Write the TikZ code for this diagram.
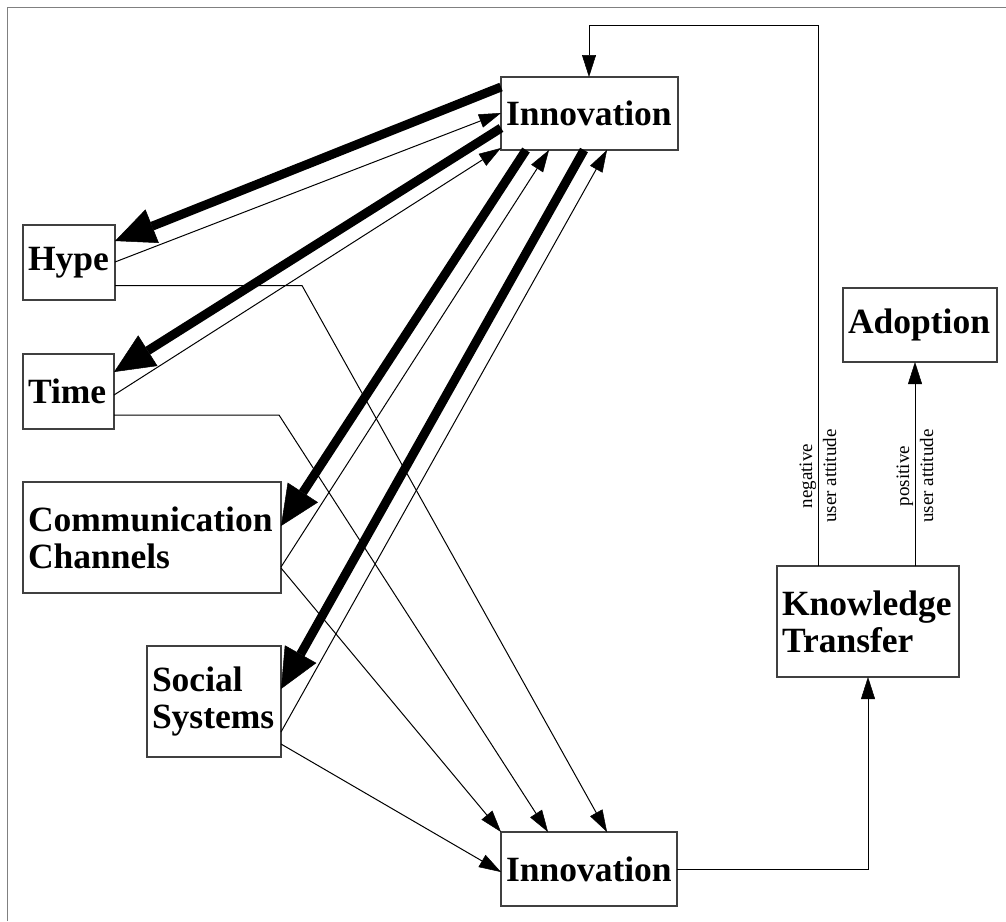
\documentclass[tikz,border=0pt]{standalone}
\usepackage{fontspec}
\setmainfont{Liberation Serif}
\usetikzlibrary{arrows.meta,calc}
\begin{document}
\begin{tikzpicture}[x=1pt,y=-1pt,
  box/.style={draw=black!75, line width=1.3pt, fill=white, rectangle,
    anchor=north west, outer sep=0pt, inner xsep=5pt, inner ysep=0pt,
    font=\fontsize{35.5}{37}\selectfont\bfseries, align=left},
  heavy/.style={line width=9pt, -{Triangle[length=40pt,width=36pt,line width=0.5pt]}},
  light/.style={line width=1pt, -{Triangle[length=22pt,width=14pt,line width=0.5pt]}},
  note/.style={font=\fontsize{19}{24}\selectfont, rotate=90, align=center, inner sep=0pt},
  frame/.style={draw=black!50, line width=1.6pt},
]
\useasboundingbox (0,0) rectangle (1006,921);

% outer frame (top and left edges only)
\draw[frame] (7.5,921) -- (7.5,7.5) -- (1006,7.5);

% boxes
\node[box, minimum width=177pt, minimum height=73pt, text width=167pt] (inn1) at (501,77) {Innovation};
\node[box, minimum width=92pt, minimum height=75pt, text width=82pt] (hype) at (23,225) {Hype};
\node[box, minimum width=91pt, minimum height=75pt, text width=81pt] (time) at (23,354) {Time};
\node[box, minimum width=258pt, minimum height=111pt, text width=248pt] (cc) at (23,482) {Communication\\Channels};
\node[box, minimum width=134pt, minimum height=111pt, text width=124pt] (ss) at (147,646) {Social\\Systems};
\node[box, minimum width=176pt, minimum height=74pt, text width=166pt] (inn2) at (501,832) {Innovation};
\node[box, minimum width=182pt, minimum height=111pt, text width=172pt] (kt) at (777,566) {Knowledge\\Transfer};
\node[box, minimum width=154pt, minimum height=74pt, text width=144pt] (adopt) at (843,288) {Adoption};

% heavy arrows from the upper Innovation box
\draw[heavy] ($(inn1.north west)+(0,10)$) -- ($(hype.north east)+(0,16)$);
\draw[heavy] ($(inn1.north west)+(0,51)$) -- ($(time.north east)+(0,18)$);
\draw[heavy] ($(inn1.south west)+(25,0)$) -- ($(cc.north east)+(0,44)$);
\draw[heavy] ($(inn1.south west)+(83,0)$) -- ($(ss.north east)+(0,43)$);

% feedback to the upper Innovation box
\draw[light] ($(hype.north east)+(0,37)$) -- ($(inn1.north west)+(0,36)$);
\draw[light] ($(time.north east)+(0,41)$) -- ($(inn1.south west)+(0,-2)$);
\draw[light] ($(cc.north east)+(0,85)$) -- ($(inn1.south west)+(48,0)$);
\draw[light] ($(ss.north east)+(0,86)$) -- ($(inn1.south west)+(106,0)$);

% flows into the lower Innovation box
\draw[light] ($(hype.north east)+(0,60.5)$) -- ++(187,0) -- ($(inn2.north west)+(106,0)$);
\draw[light] ($(time.north east)+(0,61)$) -- ++(165,0) -- ($(inn2.north west)+(47,0)$);
\draw[light] ($(cc.north east)+(0,86)$) -- (inn2.north west);
\draw[light] ($(ss.north east)+(0,98)$) -- ($(inn2.north west)+(0,40)$);

% knowledge transfer loop
\draw[light] ($(inn2.north east)+(0,37)$) -| (kt.south);
\draw[light] ($(kt.north west)+(138,0)$) -- ($(adopt.south west)+(72,0)$);
\draw[light] ($(kt.north west)+(41,0)$) -- ++(0,-541) -| ($(inn1.north west)+(88,0)$);

% edge labels
\node[note] (neg) at (818,476) {negative\\user attitude};
\node[note] (pos) at (915,476) {positive\\user attitude};
\end{tikzpicture}
\end{document}
